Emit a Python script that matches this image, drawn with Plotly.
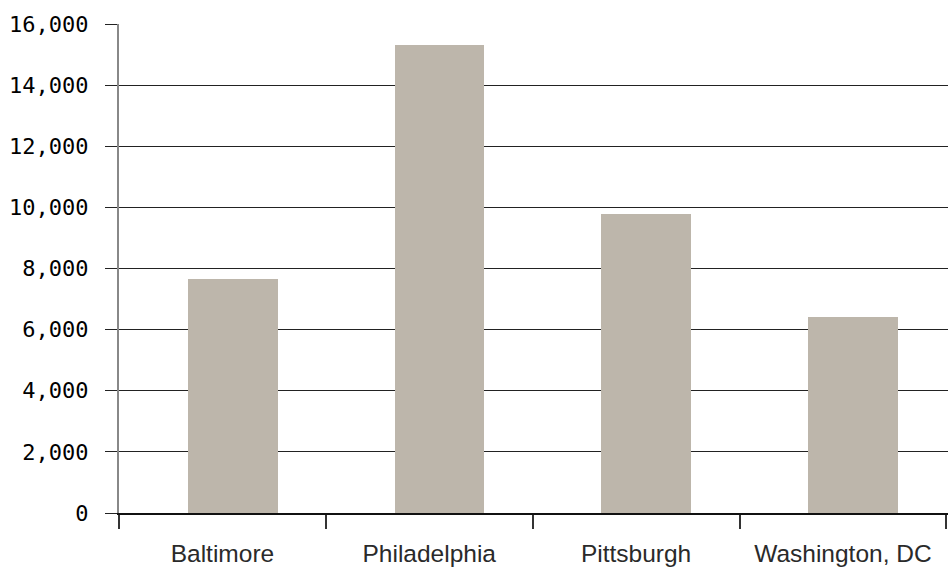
import plotly.graph_objects as go

cities = ["Baltimore", "Philadelphia", "Pittsburgh", "Washington, DC"]
values = [7650, 15310, 9780, 6410]
y_ticks = [0, 2000, 4000, 6000, 8000, 10000, 12000, 14000, 16000]
y_tick_text = ["0", "2,000", "4,000", "6,000", "8,000", "10,000", "12,000", "14,000", "16,000"]

fig = go.Figure(
    go.Bar(
        x=cities,
        y=values,
        marker=dict(color="#bdb6ab", line=dict(width=0)),
        width=0.434,
        offset=-0.1675,
        hoverinfo="x+y",
    )
)

fig.update_layout(
    width=948,
    height=571,
    margin=dict(l=119, r=0, t=24, b=58),
    plot_bgcolor="white",
    paper_bgcolor="white",
    showlegend=False,
    bargap=0,
)

fig.update_xaxes(
    type="category",
    range=[-0.5, 3.508],
    automargin=False,
    showline=True,
    linecolor="#111",
    linewidth=1.5,
    ticks="outside",
    tickson="boundaries",
    ticklen=14,
    tickwidth=1.5,
    tickcolor="#333",
    showgrid=False,
    tickfont=dict(family="Liberation Sans, Arial, sans-serif", size=24.5, color="#2a2a2a"),
    ticklabelstandoff=18,
)

fig.update_yaxes(
    range=[0, 16000],
    automargin=False,
    tickvals=y_ticks,
    ticktext=y_tick_text,
    showgrid=True,
    gridcolor="#222",
    gridwidth=1,
    zeroline=False,
    showline=True,
    linecolor="#888",
    linewidth=2,
    ticks="outside",
    ticklen=12,
    tickwidth=1,
    tickcolor="#222",
    tickfont=dict(family="DejaVu Sans Mono, monospace", size=22, color="#000"),
    ticklabelstandoff=12,
)

fig.write_html(
    "out.html",
    config={"displayModeBar": False},
    post_script="document.body.style.margin='0';document.body.style.overflow='hidden';",
)
